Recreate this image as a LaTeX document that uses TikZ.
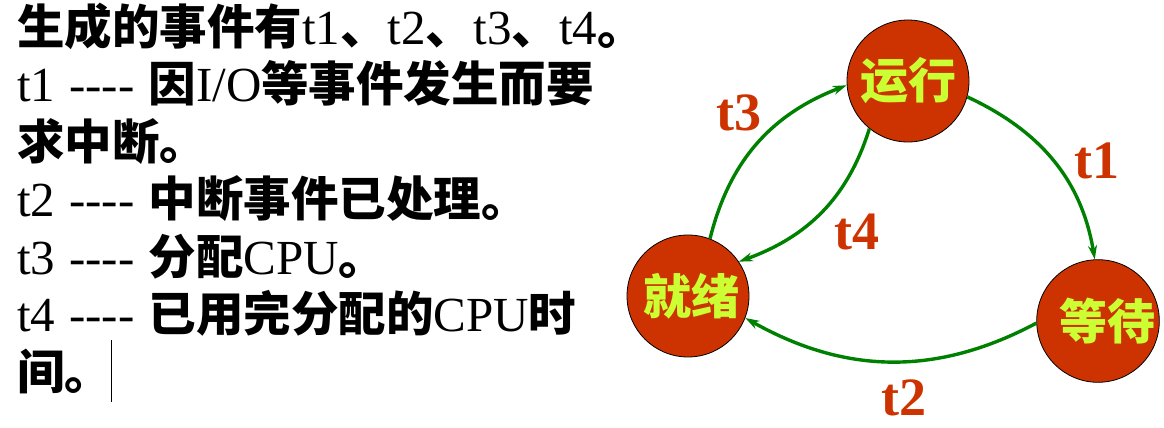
\documentclass[tikz,border=0pt]{standalone}
\usepackage{fontspec}
\setmainfont{Liberation Serif}
\newfontfamily\cjk{Noto Sans CJK SC}
\usetikzlibrary{arrows.meta}
\definecolor{nodered}{HTML}{CC3300}
\definecolor{nodetext}{HTML}{CCFF33}
\definecolor{arrowgreen}{HTML}{008000}
\newcommand{\zh}[1]{{\cjk\bfseries\fontsize{47.5}{47.5}\selectfont #1}}
\newcommand{\dashes}{\hspace{14pt}-{}-{}-{}-\hspace{14pt}}
\tikzset{
  line/.style={anchor=base west, inner sep=0pt, font=\fontsize{49}{49}\selectfont},
  state/.style={circle, draw=black, line width=0.8pt, fill=nodered, inner sep=0pt,
    minimum size=122pt, text=nodetext, font=\cjk\bfseries\fontsize{48}{48}\selectfont},
  tlabel/.style={text=nodered, inner sep=0pt, font=\fontsize{54}{54}\selectfont\bfseries},
  trans/.style={draw=arrowgreen, line width=3.4pt, -{Stealth[length=14pt,width=9pt]}}
}
\begin{document}
\begin{tikzpicture}[x=1pt,y=1pt]
\useasboundingbox (0,0) rectangle (1164,428);
% left text
\node[line] (l1) at (17,383.5) {\zh{生成的事件有}t1\zh{、}t2\zh{、}t3\zh{、}t4\zh{。}};
\node[line] (l2) at (17,326) {t1\dashes\zh{因}I/O\zh{等事件发生而要}};
\node[line] (l3) at (17,268.5) {\zh{求中断。}};
\node[line] (l4) at (17,211) {t2\dashes\zh{中断事件已处理。}};
\node[line] (l5) at (17,153.5) {t3\dashes\zh{分配}CPU\zh{。}};
\node[line] (l6) at (17,96) {t4\dashes\zh{已用完分配的}CPU\zh{时}};
\node[line] (l7) at (17,38.5) {\zh{间。}};
\coordinate (cur1) at (111,88);
\coordinate (cur2) at (111,26);
\draw[line width=1pt] (cur1) -- (cur2);
% states
\node[state] (run) at (908,347) {运行};
\node[state] (ready) at (688,132) {\hspace*{6pt}就绪};
\node[state] (wait) at (1098,107) {\hspace*{18pt}等待};
% transitions
\draw[trans] (ready.69) to[out=76,in=201] (run.184);
\draw[trans] (run.345) to[out=335,in=99.5] (wait.93);
\draw[trans] (run.231) to[out=252.6,in=20] (ready.34);
\draw[trans] (wait.182) to[out=208,in=330.6] (ready.339);
% labels
\node[tlabel] (lt3) at (739,315) {t3};
\node[tlabel] (lt1) at (1097,267) {t1};
\node[tlabel] (lt4) at (857,196) {t4};
\node[tlabel] (lt2) at (904,30) {t2};
\end{tikzpicture}
\end{document}
